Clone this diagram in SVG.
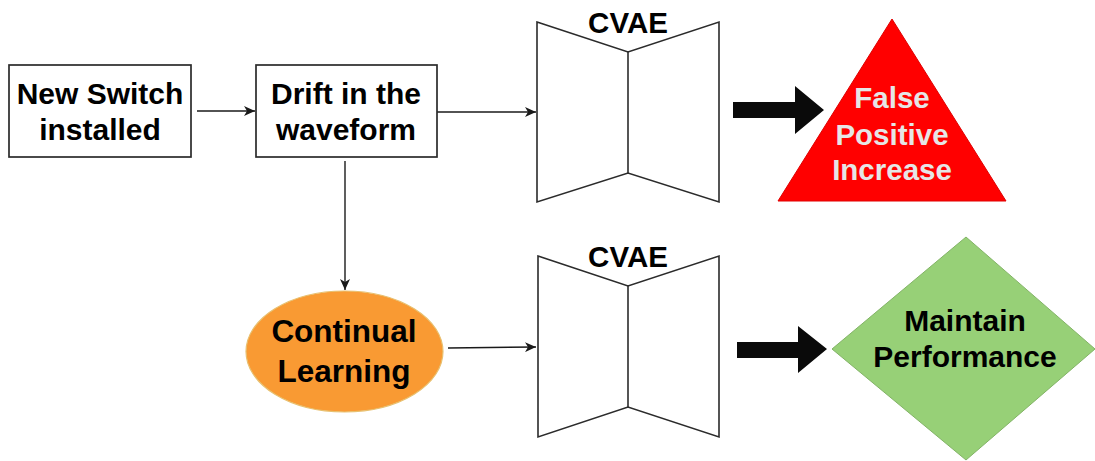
<svg xmlns="http://www.w3.org/2000/svg" width="1095" height="461" viewBox="0 0 1095 461">
<defs>
<style>
.box{fill:#fff;stroke:#2b2b2b;stroke-width:1.7}
.cvae{fill:#fff;stroke:#2b2b2b;stroke-width:1.6;stroke-linejoin:miter}
.edge{fill:none;stroke:#1a1a1a;stroke-width:1.4}
.big{fill:#0a0a0a}
.t{font-family:"Liberation Sans",Arial,sans-serif;font-weight:bold;text-anchor:middle;fill:#000}
</style>
<marker id="ah" markerWidth="12" markerHeight="10" refX="11" refY="5" orient="auto" markerUnits="userSpaceOnUse">
<path d="M0,0 L11,5 L0,10 L3,5 Z" fill="#1a1a1a"/>
</marker>
</defs>
<rect width="1095" height="461" fill="#fff"/>
<g id="connectors">
<line class="edge" x1="197" y1="111" x2="255" y2="111" marker-end="url(#ah)"/>
<line class="edge" x1="437" y1="112" x2="536" y2="112" marker-end="url(#ah)"/>
<line class="edge" x1="345" y1="161" x2="345" y2="290" marker-end="url(#ah)"/>
<line class="edge" x1="448" y1="348" x2="536" y2="347" marker-end="url(#ah)"/>
<path id="arrow-top" class="big" d="M733,102 L795,102 L795,86 L824,110 L795,134 L795,118 L733,118 Z"/>
<path id="arrow-bottom" class="big" d="M737,342 L798,342 L798,326 L827,349 L798,373 L798,358 L737,358 Z"/>
</g>
<g id="new-switch">
<rect class="box" x="9" y="65" width="182" height="92"/>
<text class="t" x="100" y="104" font-size="30">New Switch</text>
<text class="t" x="100" y="140" font-size="30">installed</text>
</g>
<g id="drift">
<rect class="box" x="256" y="65" width="181" height="92"/>
<text class="t" x="346" y="104" font-size="30">Drift in the</text>
<text class="t" x="346" y="140" font-size="30">waveform</text>
</g>
<g id="cvae-top">
<path class="cvae" d="M537,22 L628,52 L719,22 L719,202 L628,173 L537,202 Z"/>
<line class="cvae" x1="628" y1="52" x2="628" y2="173"/>
<text class="t" x="628" y="33" font-size="29.5">CVAE</text>
</g>
<g id="false-positive">
<path d="M892,19 L1006,201 L778,201 Z" fill="#ff0000" stroke="#e00000" stroke-width="1"/>
<text class="t" x="892" y="108" font-size="29.5" style="fill:#e6e6e6">False</text>
<text class="t" x="892" y="145" font-size="29.5" style="fill:#e6e6e6">Positive</text>
<text class="t" x="892" y="180" font-size="29.5" style="fill:#e6e6e6">Increase</text>
</g>
<g id="continual-learning">
<ellipse cx="344.5" cy="351.5" rx="98.5" ry="60.5" fill="#f99a33" stroke="#e8c070" stroke-width="1.2"/>
<text class="t" x="344" y="342" font-size="31.5">Continual</text>
<text class="t" x="344" y="382" font-size="31.5">Learning</text>
</g>
<g id="cvae-bottom">
<path class="cvae" d="M538,256 L628,286 L719,256 L719,437 L628,407 L538,437 Z"/>
<line class="cvae" x1="628" y1="286" x2="628" y2="407"/>
<text class="t" x="628" y="267" font-size="29.5">CVAE</text>
</g>
<g id="maintain">
<path d="M966,237 L1095,349 L966,460 L832,349 Z" fill="#97d077" stroke="#82b366" stroke-width="1"/>
<text class="t" x="965" y="331" font-size="30">Maintain</text>
<text class="t" x="965" y="367" font-size="30">Performance</text>
</g>
</svg>
